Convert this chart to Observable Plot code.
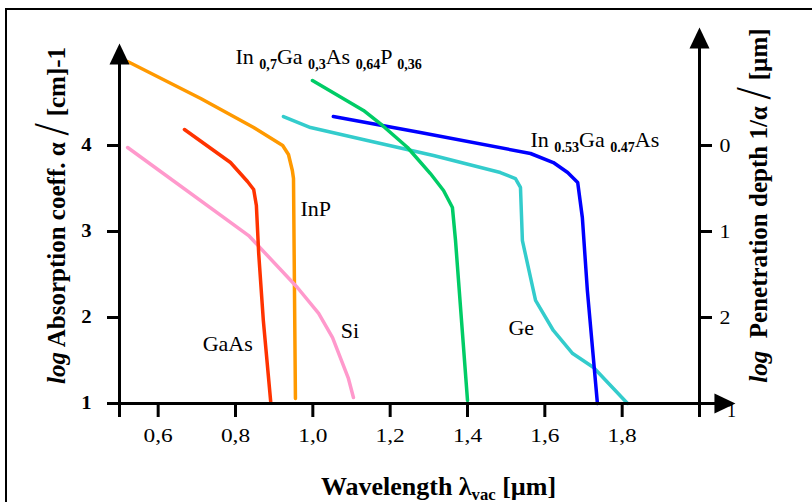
<!DOCTYPE html>
<html><head><meta charset="utf-8">
<script src="https://cdn.jsdelivr.net/npm/d3@7"></script>
<script src="https://cdn.jsdelivr.net/npm/@observablehq/plot@0.6"></script>
<style>
html,body{margin:0;padding:0;background:#fff;}
#wrap{position:relative;width:812px;height:502px;overflow:hidden;background:#fff;}
#frame{position:absolute;left:5px;top:8px;right:-10px;bottom:-10px;border-top:2px solid #000;border-left:2px solid #000;}
#wrap svg{position:absolute;left:0;top:0;}
</style></head><body><div id="wrap"><div id="frame"></div></div>
<script>
// ---- tick values and labels ----
const xTicks = [0.5, 0.6, 0.8, 1.0, 1.2, 1.4, 1.6, 1.8, 2.0];
const xTickLabels = ["", "0,6", "0,8", "1,0", "1,2", "1,4", "1,6", "1,8", ""];
const leftTicks = [1, 2, 3, 4];
const leftTickLabels = ["1", "2", "3", "4"];
const rightTicks = [4, 3, 2];
const rightTickLabels = ["0", "1", "2"];

// ---- series: wavelength (µm) and log absorption coefficient ----
const inpLambda = [0.521, 0.710, 0.847, 0.922, 0.937, 0.947, 0.950, 0.955];
const inpLogAlpha = [4.977, 4.547, 4.209, 4.0, 3.895, 3.709, 3.616, 1.058];
const gaasLambda = [0.668, 0.787, 0.831, 0.847, 0.854, 0.860, 0.872, 0.891];
const gaasLogAlpha = [4.186, 3.802, 3.581, 3.488, 3.302, 2.744, 1.965, 1.023];
const siLambda = [0.521, 0.834, 0.960, 1.015, 1.051, 1.092, 1.105];
const siLogAlpha = [3.977, 2.953, 2.349, 2.047, 1.767, 1.291, 1.070];
const ingaaspLambda = [0.999, 1.131, 1.180, 1.245, 1.304, 1.338, 1.361, 1.369, 1.400];
const ingaaspLogAlpha = [4.756, 4.407, 4.233, 3.977, 3.674, 3.477, 3.279, 2.895, 1.035];
const geLambda = [0.924, 0.994, 1.141, 1.312, 1.485, 1.524, 1.537, 1.542, 1.576, 1.622, 1.672, 1.726, 1.814];
const geLogAlpha = [4.337, 4.209, 4.058, 3.884, 3.686, 3.616, 3.512, 2.895, 2.198, 1.849, 1.581, 1.419, 1.0];
const ingaasLambda = [1.053, 1.278, 1.563, 1.622, 1.659, 1.685, 1.697, 1.710, 1.736];
const ingaasLogAlpha = [4.337, 4.151, 3.907, 3.802, 3.686, 3.570, 3.163, 2.314, 1.0];

const seriesNames = ["InP", "Si", "GaAs", "Ge", "InGaAs", "InGaAsP"];
const seriesLambda = [inpLambda, siLambda, gaasLambda, geLambda, ingaasLambda, ingaaspLambda];
const seriesLogAlpha = [inpLogAlpha, siLogAlpha, gaasLogAlpha, geLogAlpha, ingaasLogAlpha, ingaaspLogAlpha];
const seriesColors = ["#ff9900", "#ff99cc", "#ff3300", "#33cccc", "#0000ff", "#00cc66"];

// ---- curve labels (markup: {_sub}) ----
const curveLabels = ["In {_0,7}Ga {_0,3}As {_0,64}P {_0,36}", "InP", "GaAs", "Si", "Ge", "In {_0.53}Ga {_0.47}As"];
const curveLabelLambda = [0.800, 0.968, 0.715, 1.072, 1.506, 1.563];
const curveLabelLog = [4.953, 3.186, 1.616, 1.756, 1.791, 3.977];

const xTitle = "Wavelength λ{_vac} [µm]";
const leftTitle = "{~log} Absorption coeff. α {|/} [cm]-1";
const rightTitle = "{~log}  Penetration depth 1/α {|/} [µm]";
const cornerLabel = "1";

const serif = "'Liberation Serif', 'Times New Roman', serif";
const arrowHead = {draw(ctx) { ctx.moveTo(0, 0); ctx.lineTo(-10, 21); ctx.lineTo(10, 21); ctx.closePath(); }};

const svg = Plot.plot({
  width: 812, height: 502,
  marginLeft: 119, marginRight: 113, marginTop: 59, marginBottom: 99,
  style: {fontFamily: serif, fontSize: "17px", color: "black", background: "transparent", overflow: "visible"},
  x: {domain: [0.5, 2.0]},
  y: {domain: [1, 5]},
  marks: [
    ...seriesNames.map((n, k) => Plot.line(seriesLambda[k], {x: seriesLambda[k], y: seriesLogAlpha[k], stroke: seriesColors[k], strokeWidth: 3.5, strokeLinejoin: "round"})),
    Plot.ruleX([0.5], {y1: 1, y2: 4.95, stroke: "black", strokeWidth: 3}),
    Plot.ruleX([2.0], {y1: 1, y2: 5.13, stroke: "black", strokeWidth: 3}),
    Plot.ruleY([1], {x1: 0.5, x2: 2.05, stroke: "black", strokeWidth: 3}),
    Plot.dot([0], {x: 0.5, y: 5.186, symbol: arrowHead, fill: "black", stroke: null}),
    Plot.dot([0], {x: 2.0, y: 5.372, symbol: arrowHead, fill: "black", stroke: null}),
    Plot.dot([0], {x: 2.093, y: 1, symbol: arrowHead, rotate: 90, fill: "black", stroke: null}),
    Plot.axisX(xTicks, {anchor: "bottom", tickSize: 14, tickPadding: 12, strokeWidth: 3, fontSize: 18, fontFamily: serif, label: null,
      tickFormat: d => xTickLabels[xTicks.indexOf(d)]}),
    Plot.axisY(leftTicks, {anchor: "left", tickSize: 12, tickPadding: 16, strokeWidth: 3, fontSize: 18, fontWeight: "bold", fontFamily: serif, label: null,
      tickFormat: d => leftTickLabels[leftTicks.indexOf(d)]}),
    Plot.axisY(rightTicks, {anchor: "right", tickSize: 12, tickPadding: 8, strokeWidth: 3, fontSize: 19, fontFamily: serif, label: null,
      tickFormat: d => rightTickLabels[rightTicks.indexOf(d)]}),
    Plot.text(curveLabels, {x: curveLabelLambda, y: curveLabelLog, text: curveLabels, textAnchor: "start", lineAnchor: "bottom", fontSize: 22, fontFamily: serif, fill: "black", ariaLabel: "curve-labels"}),
    Plot.text([cornerLabel], {x: 2.083, y: 0.907, fontSize: 18, fontFamily: serif, fill: "black", ariaLabel: "corner"}),
    Plot.text([xTitle], {frameAnchor: "bottom", textAnchor: "middle", lineAnchor: "bottom", dx: 29, dy: 91, fontSize: 26, fontWeight: "bold", fontFamily: serif, fill: "black", ariaLabel: "x-title"}),
    Plot.text([leftTitle], {frameAnchor: "left", rotate: -90, textAnchor: "middle", lineAnchor: "middle", dx: -63, dy: -16, fontSize: 25, fontWeight: "bold", fontFamily: serif, fill: "black", ariaLabel: "left-title"}),
    Plot.text([rightTitle], {frameAnchor: "right", rotate: -90, textAnchor: "middle", lineAnchor: "middle", dx: 59, dy: -26, fontSize: 25, fontWeight: "bold", fontFamily: serif, fill: "black", ariaLabel: "right-title"})
  ]
});
document.getElementById("wrap").appendChild(svg);

// ---- rich text: {_sub}, {~italic}, {|slash} ----
const NS = "http://www.w3.org/2000/svg";
function richify(el) {
  const raw = el.textContent;
  if (!/\{[_~|]/.test(raw)) return;
  while (el.firstChild) el.removeChild(el.firstChild);
  const re = /\{([_~|])([^}]*)\}/g;
  let last = 0, m, cur = 0;
  const add = (txt, off, attrs) => {
    const t = document.createElementNS(NS, "tspan");
    t.textContent = txt;
    if (off !== cur) { t.setAttribute("dy", off - cur); cur = off; }
    for (const k in attrs) t.setAttribute(k, attrs[k]);
    el.appendChild(t);
  };
  while ((m = re.exec(raw))) {
    if (m.index > last) add(raw.slice(last, m.index), 0, {});
    if (m[1] === "_") add(m[2], 5, {"font-size": "0.64em", "font-weight": "bold"});
    else if (m[1] === "~") add(m[2], 0, {"font-style": "italic"});
    else add(m[2], 0, {"font-size": "1.6em", "font-family": "'DejaVu Sans', sans-serif", "style": "font-weight:200"});
    last = re.lastIndex;
  }
  if (last < raw.length) add(raw.slice(last), 0, {});
}
function stretch(el, sx, sy) {
  const t = el.getAttribute("transform") || "";
  const x = +el.getAttribute("x") || 0, y = +el.getAttribute("y") || 0;
  el.setAttribute("transform", `${t} translate(${x},${y}) scale(${sx},${sy}) translate(${-x},${-y})`);
}
svg.querySelectorAll("text").forEach(richify);
const sel = (label) => svg.querySelectorAll(`g[aria-label="${label}"] text`);
sel("x-axis tick label").forEach(e => stretch(e, 1.3, 1));
sel("y-axis tick label").forEach(e => stretch(e, 1.15, 1));
sel("x-title").forEach(e => stretch(e, 1.36, 1));
sel("left-title").forEach(e => stretch(e, 1, 1.4));
sel("right-title").forEach(e => stretch(e, 1, 1.05));
</script>
</body></html>
